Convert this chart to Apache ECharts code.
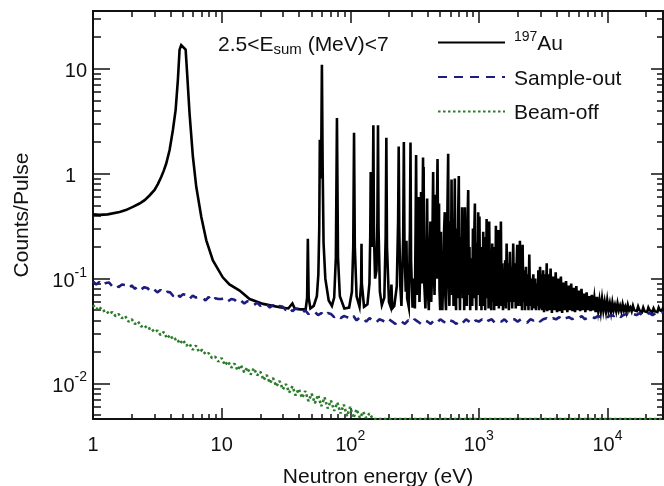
<!DOCTYPE html>
<html>
<head>
<meta charset="utf-8">
<script src="https://cdn.jsdelivr.net/npm/echarts@6/dist/echarts.min.js"></script>
<style>
  html, body { margin: 0; padding: 0; background: #ffffff; }
  #chart { width: 664px; height: 486px; }
</style>
</head>
<body>
<div id="chart"></div>
<script>
// Axis ranges (neutron energy in eV, counts per pulse)
const X_MIN = 1, X_MAX = 27000;
const Y_MIN = 0.0046, Y_MAX = 35.5;

// Tick positions
const xMajorTicks = [1, 10, 100, 1000, 10000];
const xMinorTicks = [2, 3, 4, 5, 6, 7, 8, 9,
  20, 30, 40, 50, 60, 70, 80, 90,
  200, 300, 400, 500, 600, 700, 800, 900,
  2000, 3000, 4000, 5000, 6000, 7000, 8000, 9000, 20000];
const yMajorTicks = [0.01, 0.1, 1, 10];
const yMinorTicks = [0.005, 0.006, 0.007, 0.008, 0.009,
  0.02, 0.03, 0.04, 0.05, 0.06, 0.07, 0.08, 0.09,
  0.2, 0.3, 0.4, 0.5, 0.6, 0.7, 0.8, 0.9,
  2, 3, 4, 5, 6, 7, 8, 9, 20, 30];

const seriesNames = ['197Au', 'Sample-out', 'Beam-off'];

// 197Au sample, [energy (eV), counts/pulse]
const au197 = [
  [1, 0.41], [1.12, 0.405], [1.3, 0.41], [1.61, 0.432], [1.8, 0.45], [2.04, 0.483],
  [2.3, 0.52], [2.52, 0.56], [2.75, 0.62], [3.01, 0.70], [3.2, 0.80], [3.39, 0.93],
  [3.55, 1.07], [3.71, 1.25], [3.94, 1.68], [4.18, 2.61], [4.39, 4.06], [4.57, 7.85],
  [4.71, 15.2], [4.85, 16.8], [5.0, 16.8], [5.25, 15.2], [5.37, 9.8], [5.63, 3.77],
  [5.98, 1.45], [6.35, 0.75], [6.95, 0.387], [7.6, 0.232], [8.55, 0.149], [10.2, 0.103],
  [11.5, 0.088], [13.8, 0.077], [16.5, 0.064], [21, 0.0575], [28.2, 0.0535], [33, 0.052],
  [35.5, 0.058], [37, 0.052], [41, 0.051], [45, 0.051],
  [46.2, 0.066], [46.8, 0.24], [47.5, 0.066], [49, 0.052], [52, 0.055], [55, 0.068],
  [56.5, 0.11], [57.4, 0.3], [58.0, 2.1], [58.7, 0.9], [59.5, 1.6], [60.2, 10.9],
  [61.0, 1.2], [62, 0.22], [64, 0.1], [68, 0.062], [72, 0.055], [75, 0.066],
  [77.3, 0.16], [78.8, 3.4], [80.3, 0.16], [83, 0.068], [90, 0.052], [98, 0.053],
  [103, 0.075], [105.5, 0.2], [107, 2.45], [108.5, 0.2], [112, 0.068], [118, 0.054],
  [121.5, 0.09], [122.3, 0.215], [123, 0.09], [128, 0.054], [136, 0.057], [141, 0.09],
  [143, 0.25], [144.2, 1.04], [145.5, 0.3], [147, 0.2], [149.5, 0.4], [151.2, 2.9],
  [153, 0.25], [156, 0.1], [160, 0.12], [162.5, 0.35], [164.3, 2.9], [166, 0.3],
  [170, 0.075], [176, 0.056], [184, 0.066], [188.5, 0.25], [190.8, 2.2], [193, 0.2],
  [200, 0.06], [206, 0.054], [209, 0.088], [212, 0.052], [220, 0.055], [230, 0.085],
  [235.5, 0.35], [238, 1.82], [240.5, 0.3], [245, 0.085], [250, 0.055], [258, 0.25],
  [261, 2.0], [264, 0.2], [270, 0.075], [273.5, 0.23], [277, 0.065], [285, 0.054],
  [291, 0.3], [294, 1.98], [297, 0.15], [305, 0.053], [312, 0.1], [318, 0.052],
  [322, 0.3], [325, 1.51], [328, 0.2], [334, 0.07], [340, 0.6], [345, 0.06],
  [352, 0.15], [355, 0.67], [359, 0.09], [364, 0.35], [368, 1.43], [370, 0.5],
  [372, 1.16], [376, 0.09], [384, 0.052], [390, 0.12], [396, 0.58], [401, 0.08],
  [408, 0.05], [414, 0.15], [420, 0.35], [426, 0.06], [433, 0.12], [438, 0.5],
  [441, 1.04], [445, 0.15], [452, 0.07], [458, 0.2], [462, 0.63], [466, 0.1],
  [471, 0.4], [477, 1.38], [481, 0.3], [486, 0.1], [490, 0.52], [494, 0.08],
  [500, 0.05], [507, 0.28], [513, 0.065], [520, 0.05], [530, 0.12], [537, 0.3],
  [543, 0.43], [548, 0.07], [555, 0.05], [565, 0.2], [570, 0.5], [577, 1.55],
  [583, 0.1], [590, 0.055], [600, 0.35], [606, 0.08], [613, 0.88], [620, 0.07],
  [628, 0.3], [635, 0.055], [643, 0.25], [650, 0.9], [656, 0.08], [665, 0.05],
  [672, 0.3], [680, 0.065], [690, 0.4], [698, 0.95], [705, 0.1], [713, 0.05],
  [722, 0.25], [731, 0.08], [741, 0.48], [750, 0.065], [760, 0.2], [769, 0.05],
  [778, 0.48], [787, 0.08], [796, 0.3], [806, 0.055], [816, 0.35], [826, 0.70],
  [835, 0.07], [845, 0.2], [856, 0.05], [866, 0.12], [877, 0.156], [888, 0.055],
  [899, 0.3], [910, 0.065], [920, 0.25], [931, 0.52], [943, 0.08], [955, 0.05],
  [967, 0.22], [978, 0.07], [988, 0.43], [998, 0.1], [1010, 0.39], [1022, 0.055],
  [1035, 0.2], [1047, 0.05], [1060, 0.16], [1070, 0.065], [1081, 0.28], [1093, 0.055],
  [1107, 0.18], [1120, 0.05], [1134, 0.25], [1141, 0.08], [1148, 0.37], [1162, 0.065],
  [1175, 0.2], [1189, 0.052], [1203, 0.35], [1218, 0.07], [1233, 0.17], [1248, 0.05],
  [1259, 0.12], [1270, 0.216], [1285, 0.06], [1300, 0.18], [1315, 0.05], [1330, 0.2],
  [1343, 0.07], [1356, 0.32], [1372, 0.055], [1385, 0.15], [1400, 0.08], [1413, 0.29],
  [1430, 0.052], [1446, 0.18], [1463, 0.06], [1483, 0.35], [1500, 0.055], [1520, 0.14],
  [1540, 0.05], [1560, 0.12], [1580, 0.055], [1600, 0.15], [1621, 0.052], [1643, 0.216],
  [1665, 0.06], [1688, 0.14], [1710, 0.05], [1742, 0.18], [1765, 0.06], [1790, 0.13],
  [1815, 0.052], [1849, 0.216], [1875, 0.06], [1905, 0.14], [1935, 0.052], [1960, 0.12],
  [1987, 0.21], [2010, 0.055], [2040, 0.15], [2060, 0.06], [2084, 0.23], [2110, 0.055],
  [2140, 0.14], [2165, 0.05], [2188, 0.21], [2215, 0.06], [2250, 0.12], [2285, 0.05],
  [2322, 0.13], [2355, 0.055], [2390, 0.11], [2430, 0.05], [2466, 0.17], [2500, 0.055],
  [2540, 0.1], [2580, 0.05], [2620, 0.09], [2649, 0.11], [2690, 0.052], [2740, 0.1],
  [2780, 0.05], [2830, 0.09], [2870, 0.055], [2898, 0.12], [2940, 0.05], [2990, 0.13],
  [3040, 0.052], [3076, 0.11], [3110, 0.05], [3160, 0.12], [3210, 0.048], [3260, 0.11],
  [3310, 0.05], [3367, 0.14], [3400, 0.049],
  [3445, 0.11], [3525, 0.05], [3610, 0.125], [3695, 0.047], [3780, 0.105], [3865, 0.05],
  [3955, 0.115], [4050, 0.048], [4140, 0.1], [4240, 0.049], [4340, 0.105], [4440, 0.047],
  [4545, 0.092], [4650, 0.05], [4760, 0.095], [4870, 0.048], [4985, 0.086], [5100, 0.05],
  [5220, 0.09], [5340, 0.049], [5465, 0.082], [5590, 0.048], [5720, 0.085], [5855, 0.05],
  [5990, 0.077], [6130, 0.049], [6275, 0.08], [6420, 0.05], [6570, 0.072], [6725, 0.048],
  [6880, 0.074], [7040, 0.05], [7205, 0.068], [7375, 0.049], [7545, 0.07], [7720, 0.05],
  [7900, 0.065], [8085, 0.048], [8270, 0.067], [8465, 0.05], [8660, 0.062], [8865, 0.049],
  [9070, 0.064], [9285, 0.05], [9500, 0.06], [9725, 0.049], [9950, 0.062], [10180, 0.05],
  [10420, 0.058], [10660, 0.048], [10910, 0.059], [11160, 0.05], [11420, 0.056], [11690, 0.049],
  [11960, 0.058], [12240, 0.05], [12520, 0.055], [12810, 0.049], [13110, 0.057], [13420, 0.05],
  [13730, 0.054], [14050, 0.048], [14380, 0.056], [14720, 0.05], [15060, 0.053], [15410, 0.049],
  [15770, 0.055], [16140, 0.05], [16510, 0.052], [16900, 0.049], [17290, 0.054], [17690, 0.05],
  [18100, 0.052], [18520, 0.048], [18950, 0.053], [19400, 0.049], [19850, 0.051], [20310, 0.048],
  [20780, 0.053], [21270, 0.05], [21760, 0.05], [22270, 0.048], [22790, 0.052], [23320, 0.049],
  [23860, 0.05], [24420, 0.048], [24990, 0.053], [25570, 0.05], [26170, 0.051], [26580, 0.049],
  [27000, 0.053]
];

// Sample-out background, [energy (eV), counts/pulse]
const sampleOut = [
  [1, 0.094], [1.06, 0.088], [1.12, 0.093], [1.19, 0.086], [1.26, 0.091], [1.33, 0.092],
  [1.41, 0.085], [1.5, 0.089], [1.58, 0.083], [1.68, 0.088], [1.78, 0.087], [1.89, 0.081],
  [2.0, 0.086], [2.12, 0.080], [2.24, 0.085], [2.37, 0.079], [2.51, 0.083], [2.66, 0.081],
  [2.82, 0.075], [2.99, 0.079], [3.16, 0.074], [3.35, 0.078], [3.55, 0.072], [3.76, 0.075],
  [3.98, 0.074], [4.22, 0.068], [4.47, 0.073], [4.73, 0.067], [5.01, 0.071], [5.31, 0.070],
  [5.62, 0.064], [5.96, 0.069], [6.31, 0.066], [6.68, 0.067], [7.08, 0.066], [7.5, 0.062],
  [7.94, 0.067], [8.41, 0.061], [8.91, 0.065], [9.44, 0.064],
  [10, 0.064], [10.6, 0.066], [11.2, 0.061], [11.9, 0.064], [12.6, 0.063], [13.3, 0.059],
  [14.1, 0.062], [15, 0.058], [15.8, 0.061], [16.8, 0.060], [17.8, 0.056], [18.9, 0.059],
  [20, 0.055], [21.2, 0.058], [22.4, 0.057], [23.7, 0.053], [25.1, 0.056], [26.6, 0.052],
  [28.2, 0.055], [29.9, 0.054], [31.6, 0.050], [33.5, 0.053], [35.5, 0.049], [37.6, 0.052],
  [39.8, 0.051], [42.2, 0.047], [44.7, 0.050], [47.3, 0.046], [50.1, 0.049], [53.1, 0.048],
  [56.2, 0.045], [59.6, 0.047], [63.1, 0.044], [66.8, 0.047], [70.8, 0.046], [75, 0.043],
  [79.4, 0.045], [84.1, 0.042], [89.1, 0.044], [94.4, 0.043],
  [100, 0.041], [106, 0.044], [112, 0.040], [119, 0.043], [126, 0.042], [133, 0.039],
  [141, 0.042], [150, 0.040], [158, 0.038], [168, 0.041], [178, 0.040], [189, 0.038],
  [200, 0.041], [212, 0.039], [224, 0.037], [237, 0.040], [251, 0.039], [266, 0.037],
  [282, 0.040], [299, 0.038], [316, 0.041], [335, 0.039], [355, 0.037], [376, 0.040],
  [398, 0.039], [422, 0.037], [447, 0.040], [473, 0.038], [501, 0.041], [531, 0.039],
  [562, 0.037], [596, 0.040], [631, 0.039], [668, 0.037], [708, 0.040], [750, 0.038],
  [794, 0.041], [841, 0.039], [891, 0.037], [944, 0.040],
  [1000, 0.039], [1060, 0.041], [1120, 0.038], [1190, 0.040], [1260, 0.041], [1330, 0.038],
  [1410, 0.040], [1500, 0.039], [1580, 0.041], [1680, 0.038], [1780, 0.040], [1890, 0.041],
  [2000, 0.039], [2120, 0.041], [2240, 0.040], [2370, 0.038], [2510, 0.041], [2660, 0.040],
  [2820, 0.042], [2990, 0.039], [3160, 0.041], [3350, 0.042], [3550, 0.040], [3760, 0.042],
  [3980, 0.041], [4220, 0.043], [4470, 0.040], [4730, 0.042], [5010, 0.043], [5310, 0.041],
  [5620, 0.043], [5960, 0.042], [6310, 0.044], [6680, 0.041], [7080, 0.043], [7500, 0.044],
  [7940, 0.042], [8410, 0.044], [8910, 0.043], [9440, 0.045],
  [10000, 0.043], [10600, 0.045], [11200, 0.044], [11900, 0.046], [12600, 0.043], [13300, 0.045],
  [14100, 0.046], [15000, 0.044], [15800, 0.046], [16800, 0.045], [17800, 0.047], [18900, 0.044],
  [20000, 0.046], [21200, 0.047], [22400, 0.045], [23700, 0.047], [25100, 0.046], [26600, 0.048],
  [27000, 0.047]
];

// Beam-off background, [energy (eV), counts/pulse]; zero counts above ~150 eV
const beamOff = [
  [1, 0.056], [1.06, 0.051], [1.12, 0.054], [1.19, 0.049], [1.26, 0.050], [1.33, 0.046],
  [1.41, 0.048], [1.5, 0.044], [1.58, 0.046], [1.68, 0.042], [1.78, 0.044], [1.89, 0.039],
  [2.0, 0.041], [2.12, 0.037], [2.24, 0.039], [2.37, 0.035], [2.51, 0.036], [2.66, 0.033],
  [2.82, 0.034], [2.99, 0.031], [3.16, 0.032], [3.35, 0.029], [3.55, 0.031], [3.76, 0.027],
  [3.98, 0.029], [4.22, 0.026], [4.47, 0.027], [4.73, 0.024], [5.01, 0.026], [5.31, 0.023],
  [5.62, 0.024], [5.96, 0.021], [6.31, 0.023], [6.68, 0.020], [7.08, 0.021], [7.5, 0.019],
  [7.94, 0.0195], [8.41, 0.0175], [8.91, 0.018], [9.44, 0.0162],
  [10, 0.0175], [10.6, 0.0150], [11.2, 0.0163], [11.9, 0.0142], [12.6, 0.0155], [13.3, 0.0134],
  [14.1, 0.0150], [15, 0.0128], [15.8, 0.0142], [16.8, 0.0122], [17.8, 0.0140], [18.9, 0.0120],
  [20, 0.0130], [21.2, 0.0108], [22.4, 0.0121], [23.7, 0.0101], [25.1, 0.0113], [26.6, 0.0094],
  [28.2, 0.0106], [29.9, 0.0088], [31.6, 0.0099], [33.5, 0.0082], [35.5, 0.0094], [37.6, 0.0077],
  [39.8, 0.0089], [42.2, 0.0073], [44.7, 0.0085], [47.3, 0.0068], [50.1, 0.0080], [53.1, 0.0065],
  [56.2, 0.0078], [59.6, 0.0061], [63.1, 0.0074], [66.8, 0.0058], [70.8, 0.0069], [75, 0.0055],
  [79.4, 0.0066], [84.1, 0.0052], [89.1, 0.0063], [94.4, 0.0049],
  [100, 0.0060], [106, 0.0047], [112, 0.0057], [119, 0.0047], [126, 0.0054], [133, 0.0047],
  [141, 0.0052], [150, 0], [500, 0], [3000, 0], [27000, 0]
];

const FONT = '"Liberation Sans", Arial, Helvetica, sans-serif';
const INK = '#111111';

// Counts below the axis floor are drawn on the floor
const atFloor = pts => pts.map(([e, c]) => [e, Math.max(c, Y_MIN)]);

function powerLabel(v) {
  const e = Math.round(Math.log10(v));
  if (e === 0) return '{one|1}';
  if (e === 1) return '{b|10}';
  return '{b|10}{sup|' + e + '}';
}

const labelRich = {
  b:   { fontSize: 20, fontFamily: FONT, color: INK, lineHeight: 26, verticalAlign: 'bottom' },
  one: { fontSize: 20, fontFamily: FONT, color: INK, lineHeight: 26, verticalAlign: 'bottom' },
  sup: { fontSize: 14, fontFamily: FONT, color: INK, lineHeight: 16, verticalAlign: 'top' }
};

function axisLayer(dir, position, ticks, tickLen, extra) {
  const isX = dir === 'x';
  return Object.assign({
    type: 'log', logBase: 10, position: position,
    min: isX ? X_MIN : Y_MIN, max: isX ? X_MAX : Y_MAX,
    axisLine: { show: false, onZero: false, lineStyle: { color: INK, width: 2 } },
    axisTick: { show: true, inside: true, length: tickLen, customValues: ticks,
                lineStyle: { color: INK, width: 1.5 } },
    axisLabel: { show: false },
    splitLine: { show: false },
    minorTick: { show: false },
    minorSplitLine: { show: false },
    silent: true
  }, extra || {});
}

const chart = echarts.init(document.getElementById('chart'), null, { renderer: 'canvas' });

chart.setOption({
  animation: false,
  backgroundColor: '#ffffff',
  grid: { left: 93, right: 1, top: 11, bottom: 67, containLabel: false, outerBoundsMode: 'none' },
  xAxis: [
    axisLayer('x', 'bottom', xMajorTicks, 11, {
      axisLine: { show: true, onZero: false, lineStyle: { color: INK, width: 2 } },
      axisLabel: { show: true, customValues: xMajorTicks, margin: 10, formatter: powerLabel, rich: labelRich },
      name: 'Neutron energy (eV)', nameLocation: 'middle', nameGap: 48,
      nameTextStyle: { fontSize: 21, fontFamily: FONT, color: INK }
    }),
    axisLayer('x', 'bottom', xMinorTicks, 5),
    axisLayer('x', 'top', xMajorTicks, 12, {
      axisLine: { show: true, onZero: false, lineStyle: { color: INK, width: 2 } }
    }),
    axisLayer('x', 'top', xMinorTicks, 6)
  ],
  yAxis: [
    axisLayer('y', 'left', yMajorTicks, 17, {
      axisLine: { show: true, onZero: false, lineStyle: { color: INK, width: 2 } },
      axisLabel: { show: true, customValues: yMajorTicks, margin: 6, formatter: powerLabel,
                   rich: Object.assign({}, labelRich, {
                     one: Object.assign({}, labelRich.one, { padding: [0, 11, 0, 0] })
                   }) },
      name: 'Counts/Pulse', nameLocation: 'middle', nameGap: 60,
      nameTextStyle: { fontSize: 21, fontFamily: FONT, color: INK }
    }),
    axisLayer('y', 'left', yMinorTicks, 8),
    axisLayer('y', 'right', yMajorTicks, 12, {
      axisLine: { show: true, onZero: false, lineStyle: { color: INK, width: 2 } }
    }),
    axisLayer('y', 'right', yMinorTicks, 6)
  ],
  legend: {
    orient: 'vertical', left: 437, top: 30, padding: 0,
    itemWidth: 67, itemHeight: 14, itemGap: 13.5,
    data: seriesNames,
    itemStyle: { opacity: 0, color: 'rgba(0,0,0,0)', borderWidth: 0 },
    formatter: name => name === '197Au' ? '{sup|197}{n|Au}' : '{n|' + name + '}',
    textStyle: {
      color: INK, fontFamily: FONT, fontSize: 21, padding: [0, 0, 0, 4],
      rich: {
        n:   { fontSize: 21, fontFamily: FONT, color: INK, lineHeight: 25, verticalAlign: 'bottom' },
        sup: { fontSize: 14, fontFamily: FONT, color: INK, lineHeight: 15, verticalAlign: 'top' }
      }
    }
  },
  graphic: [{
    type: 'text', left: 218, top: 33, silent: true,
    style: {
      text: '2.5<E{sub|sum} (MeV)<7',
      font: '21px ' + FONT, fill: INK, lineHeight: 24,
      rich: {
        sub: { fontSize: 15, fontFamily: FONT, fill: INK, lineHeight: 16, verticalAlign: 'bottom', padding: [8, 0, 0, 0] }
      }
    }
  }],
  series: [
    {
      name: seriesNames[0], type: 'line', xAxisIndex: 0, yAxisIndex: 0,
      data: au197, showSymbol: false, symbol: 'none', sampling: false, silent: true,
      lineStyle: { color: '#000000', width: 2.6, type: 'solid', join: 'miter' },
      itemStyle: { color: '#000000' }
    },
    {
      name: seriesNames[1], type: 'line', xAxisIndex: 0, yAxisIndex: 0,
      data: sampleOut, showSymbol: false, symbol: 'none', sampling: false, silent: true,
      lineStyle: { color: '#1d1d7e', width: 2.6, type: [9, 7] },
      itemStyle: { color: '#1d1d7e' }
    },
    {
      name: seriesNames[2], type: 'line', xAxisIndex: 0, yAxisIndex: 0,
      data: atFloor(beamOff), showSymbol: false, symbol: 'none', sampling: false, silent: true,
      lineStyle: { color: '#2b7c2b', width: 2.6, type: [2.5, 2.5] },
      itemStyle: { color: '#2b7c2b' }
    }
  ]
});
</script>
</body>
</html>
